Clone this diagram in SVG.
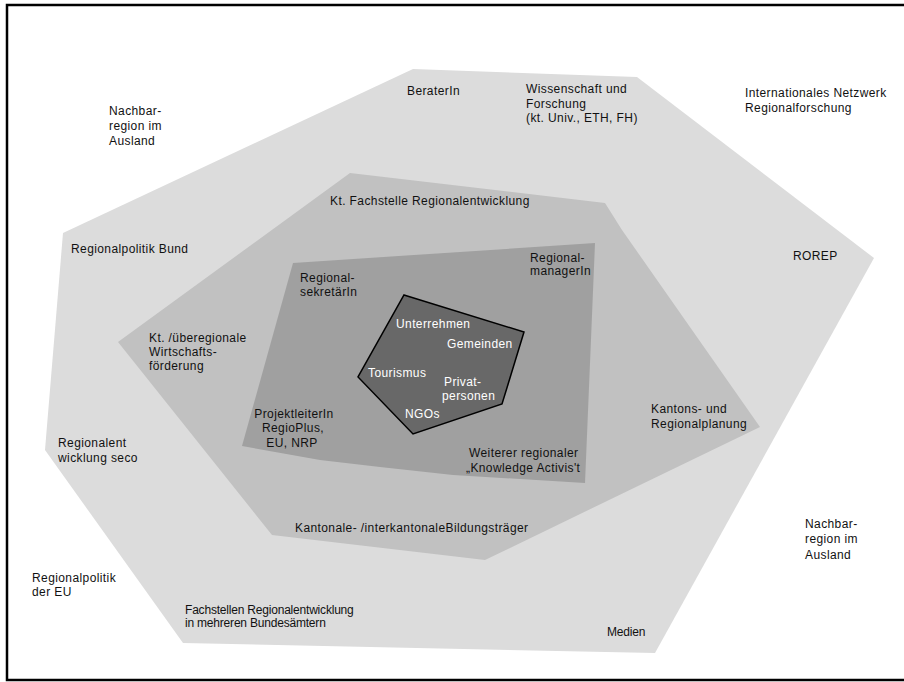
<svg xmlns="http://www.w3.org/2000/svg" width="904" height="682" viewBox="0 0 904 682">
<style>
text{font-family:"Liberation Sans",Arial,sans-serif;font-size:12px;fill:#111;letter-spacing:0.4px}
.w{fill:#fff}
.n{letter-spacing:-0.2px}
</style>
<rect x="0" y="0" width="904" height="682" fill="#fff"/>
<rect x="7" y="5" width="920" height="675" fill="none" stroke="#000" stroke-width="2.5"/>
<g id="ring-outer"><polygon points="413,69 637,77 874,258 655,653 183,643 45,450 63,233" fill="#dcdcdc"/></g>
<g id="ring-mid"><polygon points="350,173 605,203 622,230 760,427 485,560 272,535 118,342" fill="#c1c1c1"/></g>
<g id="ring-inner"><polygon points="293,263 595,243 585,483 453,475 380,467 320,460 242,446" fill="#a0a0a0"/></g>
<g id="core"><polygon points="404,295 524,332 502,404 413,434 358,377" fill="#686868" stroke="#000" stroke-width="1.5"/></g>
<g id="connectors"></g>
<g id="labels">
<g id="t-nachbar1"><text x="109" y="115">Nachbar-</text><text x="109" y="130">region im</text><text x="109" y="145">Ausland</text></g>
<g id="t-berater"><text x="407" y="95">BeraterIn</text></g>
<g id="t-wissenschaft"><text x="526" y="93">Wissenschaft und</text><text x="526" y="108">Forschung</text><text x="526" y="122">(kt. Univ., ETH, FH)</text></g>
<g id="t-international"><text x="745" y="97">Internationales Netzwerk</text><text x="745" y="112">Regionalforschung</text></g>
<g id="t-ktfach"><text x="330" y="205">Kt. Fachstelle Regionalentwicklung</text></g>
<g id="t-bund"><text x="71" y="253">Regionalpolitik Bund</text></g>
<g id="t-rorep"><text x="793" y="260">ROREP</text></g>
<g id="t-sekretaer"><text x="300" y="282">Regional-</text><text x="300" y="296">sekretärIn</text></g>
<g id="t-manager"><text x="530" y="262">Regional-</text><text x="530" y="275">managerIn</text></g>
<g id="t-wirtschaft"><text x="149" y="342">Kt. /überegionale</text><text x="149" y="356">Wirtschafts-</text><text x="149" y="370">förderung</text></g>
<g id="t-unternehmen"><text class="w" x="396" y="328">Unterrehmen</text></g>
<g id="t-gemeinden"><text class="w" x="447" y="348">Gemeinden</text></g>
<g id="t-tourismus"><text class="w" x="368" y="377">Tourismus</text></g>
<g id="t-privat"><text class="w" x="444" y="386">Privat-</text><text class="w" x="442" y="400">personen</text></g>
<g id="t-ngos"><text class="w" x="405" y="418">NGOs</text></g>
<g id="t-projekt"><text x="294" y="418" text-anchor="middle">ProjektleiterIn</text><text x="293" y="432" text-anchor="middle">RegioPlus,</text><text x="292" y="447" text-anchor="middle">EU, NRP</text></g>
<g id="t-kantons"><text x="651" y="413">Kantons- und</text><text x="651" y="428">Regionalplanung</text></g>
<g id="t-weiterer"><text x="469" y="457">Weiterer regionaler</text><text x="466" y="472">„Knowledge Activis't</text></g>
<g id="t-seco"><text x="58" y="447">Regionalent</text><text x="58" y="462">wicklung seco</text></g>
<g id="t-bildung"><text x="295" y="532">Kantonale- /interkantonaleBildungsträger</text></g>
<g id="t-nachbar2"><text x="805" y="528">Nachbar-</text><text x="805" y="543">region im</text><text x="805" y="559">Ausland</text></g>
<g id="t-eu"><text x="32" y="582">Regionalpolitik</text><text x="32" y="596">der EU</text></g>
<g id="t-fachstellen"><text class="n" x="185" y="614">Fachstellen Regionalentwicklung</text><text class="n" x="185" y="627">in mehreren Bundesämtern</text></g>
<g id="t-medien"><text class="n" x="607" y="636">Medien</text></g>
</g>
</svg>
